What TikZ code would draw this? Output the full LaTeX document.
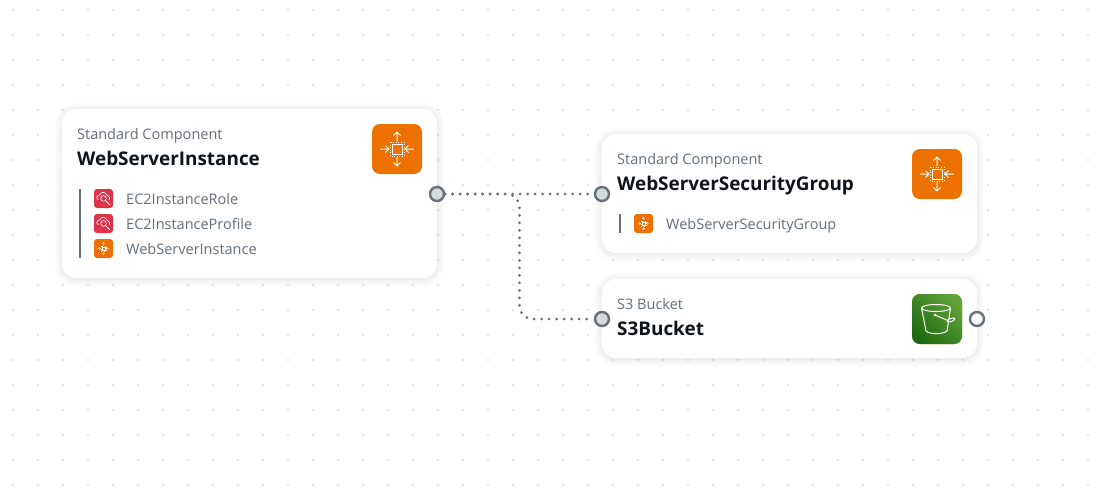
\documentclass[tikz,border=0pt]{standalone}
\usepackage{fontspec}
\setmainfont{Open Sans}
\usepackage{xcolor}
\usetikzlibrary{shadows.blur}

\definecolor{griddot}{HTML}{DFE5E5}
\definecolor{inkdark}{HTML}{0F141A}
\definecolor{inkgrey}{HTML}{656E78}
\definecolor{linkgrey}{HTML}{687078}
\definecolor{portfill}{HTML}{D5DBDB}
\definecolor{computeorange}{HTML}{ED7100}
\definecolor{iamred}{HTML}{DD344C}
\definecolor{bucketdark}{HTML}{1F6B12}
\definecolor{bucketlight}{HTML}{5FA338}

\tikzset{
    card/.style={draw=none, fill=white, rounded corners=14pt, inner sep=0pt,
        blur shadow={shadow blur steps=14, shadow xshift=0pt, shadow yshift=-1pt,
            shadow blur radius=8pt, shadow opacity=14}},
    kindlabel/.style={anchor=base west, inner sep=0pt, text=inkgrey, font=\fontsize{14.5}{16}\selectfont},
    titlelabel/.style={anchor=base west, inner sep=0pt, text=inkdark, font=\fontsize{18.9}{24}\selectfont\bfseries},
    itemlabel/.style={anchor=base west, inner sep=0pt, text=inkgrey, font=\fontsize{14.5}{16}\selectfont},
    port/.style={circle, draw=linkgrey, line width=2.4pt, fill=portfill, minimum size=14pt, inner sep=0pt},
    openport/.style={port, fill=white},
    link/.style={draw=linkgrey, line width=3pt, line cap=round, dash pattern=on 0pt off 7.5pt},
    bigicon/.style={draw=none, fill=computeorange, rounded corners=8pt, minimum size=50pt, inner sep=0pt},
    smallicon/.style={draw=none, fill=#1, rounded corners=3pt, minimum size=19pt, inner sep=0pt},
    chipglyph/.pic={
        \draw[white] (-5,-5) rectangle (5,5);
        \draw[white, dash pattern=on 0.8pt off 1.8pt] (-7,-7) rectangle (7,7);
        % up and down point out, left and right point in
        \draw[white] (0,-8) -- (0,-17) (-3.5,-13.5) -- (0,-17) -- (3.5,-13.5);
        \draw[white] (0,8) -- (0,17) (-3.5,13.5) -- (0,17) -- (3.5,13.5);
        \draw[white] (-17,0) -- (-8,0) (-11.5,-3.5) -- (-8,0) -- (-11.5,3.5);
        \draw[white] (17,0) -- (8,0) (11.5,-3.5) -- (8,0) -- (11.5,3.5);
    },
    roleglyph/.pic={
        \draw[white, line width=0.6pt, rounded corners=1pt] (-5,1) -- (-7,0) -- (-6.5,-2.5) -- (-4,-3) -- (-2.5,-6) -- (1.5,-6) -- (3.5,-3) -- (6,-2) -- (6,1);
        \draw[white, line width=0.6pt] (0,0) circle (2.8);
        \draw[white, line width=1pt] (2,2) -- (6.5,6.5);
    },
    bucketglyph/.pic={
        \draw[white, line width=1pt] (-1,-11) ellipse (14.5 and 3.5);
        \draw[white, line width=1pt] (-15.5,-11) -- (-11,12) .. controls (-8,15.5) and (6,15.5) .. (10,12) -- (13.5,-11);
        \fill[white] (-2,-4) circle (1.5);
        \draw[white, line width=1pt] (-2,-4) -- (12,2);
        \draw[white, line width=1pt, rotate around={20:(14,1)}] (14,1) ellipse (4 and 1.6);
    }
}

\begin{document}
\begin{tikzpicture}[x=1pt, y=-1pt]
    \useasboundingbox (0,0) rectangle (1106,496);

    % Dotted canvas
    \foreach \col in {0,...,43}
        \foreach \row in {0,...,19}
            \fill[griddot] (13+25*\col, 10+25*\row) circle (1.3);

    % Cards
    \node[card, minimum width=375pt, minimum height=169pt] (instanceCard) at (249.5,193.5) {};
    \node[card, minimum width=375pt, minimum height=119pt] (groupCard) at (789.5,193.5) {};
    \node[card, minimum width=375pt, minimum height=79pt] (bucketCard) at (789.5,318.5) {};

    % WebServerInstance card
    \node[kindlabel] (instanceKind) at (77,139) {Standard Component};
    \node[titlelabel] (instanceTitle) at (77,165) {WebServerInstance};
    \node[bigicon] (instanceIcon) at (397,149) {};
    \pic[line width=1pt] at (instanceIcon) {chipglyph};
    \draw[linkgrey, line width=1.5pt] (80,189) -- (80,258);
    \node[smallicon=iamred] (roleIcon) at (103.5,198.5) {};
    \pic[scale=1] at (roleIcon) {roleglyph};
    \node[itemlabel] (roleLabel) at (126,204) {EC2InstanceRole};
    \node[smallicon=iamred] (profileIcon) at (103.5,223.5) {};
    \pic[scale=1] at (profileIcon) {roleglyph};
    \node[itemlabel] (profileLabel) at (126,229) {EC2InstanceProfile};
    \node[smallicon=computeorange] (serverIcon) at (103.5,248.5) {};
    \pic[scale=0.36, line width=0.4pt] at (serverIcon) {chipglyph};
    \node[itemlabel] (serverLabel) at (126,254) {WebServerInstance};

    % WebServerSecurityGroup card
    \node[kindlabel] (groupKind) at (617,164) {Standard Component};
    \node[titlelabel] (groupTitle) at (617,190) {WebServerSecurityGroup};
    \node[bigicon] (groupIcon) at (937,174) {};
    \pic[line width=1pt] at (groupIcon) {chipglyph};
    \draw[linkgrey, line width=1.5pt] (620,214) -- (620,233);
    \node[smallicon=computeorange] (sgIcon) at (643.5,223.5) {};
    \pic[scale=0.36, line width=0.4pt] at (sgIcon) {chipglyph};
    \node[itemlabel] (sgLabel) at (666,229) {WebServerSecurityGroup};

    % S3Bucket card
    \node[kindlabel] (bucketKind) at (617,309) {S3 Bucket};
    \node[titlelabel] (bucketTitle) at (617,335) {S3Bucket};
    \node[bigicon, left color=bucketlight, right color=bucketdark, shading angle=-45] (bucketIcon) at (937,319) {};
    \pic at (bucketIcon) {bucketglyph};

    % Ports
    \node[port] (instancePort) at (437,194) {};
    \node[port] (groupPort) at (602,194) {};
    \node[port] (bucketPort) at (602,319) {};
    \node[openport] (bucketOut) at (977,319) {};

    % Dotted links
    \coordinate (bendTop) at (519.5,194);
    \coordinate (bendBottom) at (519.5,319);
    \draw[link] (instancePort) -- (groupPort);
    \draw[link, rounded corners=13pt] (instancePort) -- (bendTop) -- (bendBottom) -- (bucketPort);
\end{tikzpicture}
\end{document}
